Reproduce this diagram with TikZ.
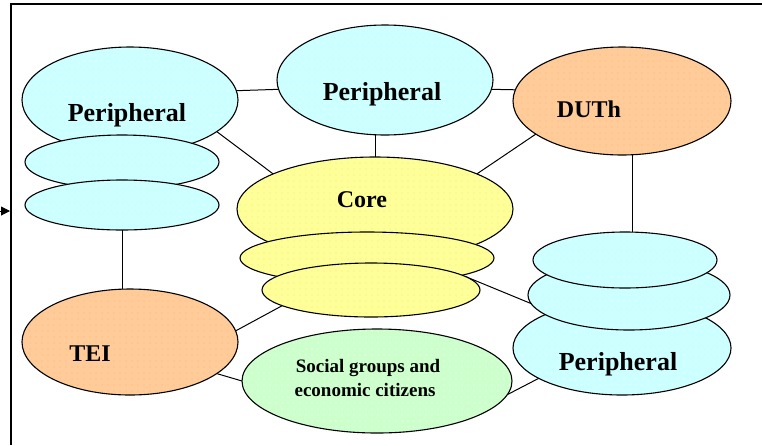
\documentclass[tikz,border=0pt]{standalone}
\usepackage{fontspec}
\setmainfont{Liberation Serif}
\usetikzlibrary{shapes.geometric,arrows.meta,backgrounds,patterns.meta}
\definecolor{cyfill}{RGB}{204,255,255}
\definecolor{yefill}{RGB}{255,255,153}
\definecolor{orfill}{RGB}{255,204,153}
\definecolor{grfill}{RGB}{204,255,204}
\definecolor{yedot}{RGB}{240,235,110}
\definecolor{ordot}{RGB}{255,180,120}
\begin{document}
\begin{tikzpicture}[x=1pt,y=-1pt,
  blob/.style={ellipse, draw=black, line width=1.1pt, inner sep=0pt, outer sep=0pt},
  dotted fill/.style 2 args={preaction={fill=#1}, pattern={Dots[radius=0.7pt, distance=6pt]}, pattern color=#2},
  cyb/.style={blob, dotted fill={cyfill}{white}},
  yeb/.style={blob, dotted fill={yefill}{yedot}},
  orb/.style={blob, dotted fill={orfill}{ordot}},
  grb/.style={blob, dotted fill={grfill}{white}},
  lbl/.style={font=\bfseries\fontsize{24}{28}\selectfont, anchor=base, inner sep=0pt},
  biglbl/.style={lbl, font=\bfseries\fontsize{26}{30}\selectfont},
  smlbl/.style={lbl, font=\bfseries\fontsize{19}{24}\selectfont},
  conn/.style={draw=black, line width=1pt}]
\useasboundingbox (0,0) rectangle (762,445);

% frame
\draw[line width=1.5pt] (11,445) -- (11,4) -- (762,4);
\coordinate (arrtail) at (-4,211);
\coordinate (arrtip) at (10,211);
\draw[line width=1pt, -{Triangle[length=9pt,width=9pt]}] (arrtail) -- (arrtip);

% left peripheral stack
\node[cyb, minimum width=216pt, minimum height=106pt] (lp) at (130,100) {};
\node[cyb, minimum width=194pt, minimum height=54pt] (lm) at (122,162) {};
\node[cyb, minimum width=194pt, minimum height=50pt] (lt) at (122,205) {};
\node[biglbl] (lpl) at (127,121) {Peripheral};

% top peripheral
\node[cyb, minimum width=216pt, minimum height=110pt] (tp) at (385,80) {};
\node[biglbl] (tpl) at (382,100) {Peripheral};

% DUTh
\node[orb, minimum width=218pt, minimum height=108pt] (dh) at (622,101) {};
\node[lbl] (dhl) at (589,117) {DUTh};

% core stack
\node[yeb, minimum width=276pt, minimum height=104pt] (cb) at (375,209) {};
\node[yeb, minimum width=254pt, minimum height=52pt] (cm) at (367,258) {};
\node[yeb, minimum width=218pt, minimum height=54pt] (ct) at (371,290) {};
\node[lbl] (cbl) at (362,207) {Core};

% TEI
\node[orb, minimum width=216pt, minimum height=106pt] (tei) at (130,342) {};
\node[lbl] (teil) at (90,361) {TEI};

% social groups
\node[grb, minimum width=270pt, minimum height=104pt] (soc) at (377,381) {};
\node[smlbl] (socl1) at (368,372) {Social groups and};
\node[smlbl] (socl2) at (365,396) {economic citizens};

% right peripheral stack
\node[cyb, minimum width=218pt, minimum height=94pt] (rb) at (622,348) {};
\node[cyb, minimum width=202pt, minimum height=70pt] (rm) at (629,295) {};
\node[cyb, minimum width=184pt, minimum height=56pt] (rt) at (625,260) {};
\node[biglbl] (rbl) at (618,370) {Peripheral};

% connectors
\begin{pgfonlayer}{background}
\draw[conn] (lp.5) -- (tp.185);
\draw[conn] (tp.355) -- (dh.174);
\draw[conn] (cb.north) -- (cb.north |- tp.south);
\draw[conn] (lp.340) -- (cb.161);
\draw[conn] (dh.201) -- (cb.19);
\draw[conn] (lt.south) -- (lt.south |- tei.north);
\draw[conn] (dh.281) -- (dh.281 |- rt.north);
\draw[conn] (tei.6) -- (ct.190);
\draw[conn] (tei.340) -- (soc.180);
\draw[conn] (ct.8) -- (rm.185);
\draw[conn] (soc.354) -- (rb.200);
\end{pgfonlayer}
\end{tikzpicture}
\end{document}
